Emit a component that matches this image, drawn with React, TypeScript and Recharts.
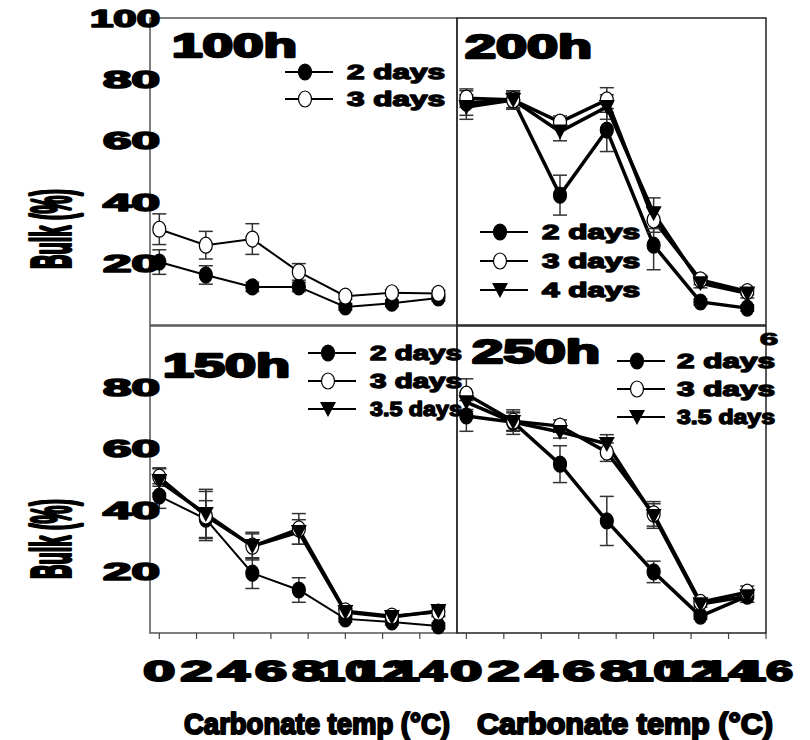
import { LineChart, Line, XAxis, YAxis, ErrorBar, ReferenceArea } from "recharts";

// x positions of the measurements (shared by all four panels)
const tempX = [0, 2.5, 5, 7.5, 10, 12.5, 15];
const xTicksLeft = [0, 2, 4, 6, 8, 10, 12, 14];
const xTicksRight = [0, 2, 4, 6, 8, 10, 12, 14, 16];
const yTicksTop = [20, 40, 60, 80, 100];
const yTicksBottom = [20, 40, 60, 80];
const yTicksInner = [20, 40, 60, 80];

const panelTitles = ["100h", "200h", "150h", "250h"];
const legendTL = ["2 days", "3 days"];
const legendTR = ["2 days", "3 days", "4 days"];
const legendBL = ["2 days", "3 days", "3.5 days"];
const legendBR = ["2 days", "3 days", "3.5 days"];
const yTitle = "Bulk (%)";
const xTitle = "Carbonate temp (°C)";

// top left
const tl2 = [20.5, 16.3, 12.4, 12.4, 5.9, 7.1, 8.8];
const tl2Err = [4, 3, 1.5, 1.5, 1, 1, 1];
const tl3 = [31.2, 26, 28, 17.3, 9.4, 10.5, 10.3];
const tl3Err = [5, 4.5, 5, 2.7, 1, 1, 1];

// top right
const tr2 = [72.3, 73.3, 42.3, 63.5, 26, 7.5, 5.5];
const tr2Err = [4, 3, 6.5, 7, 8, 1, 1];
const tr3 = [73.9, 73.3, 66.1, 73.3, 34.2, 14.7, 10.9];
const tr3Err = [3, 3, 2, 4, 4, 1.5, 1];
const tr4 = [71, 73.3, 63, 71, 36.4, 13.6, 10.3];
const tr4Err = [4, 2.5, 3, 4, 5, 1.5, 1.5];

// bottom left
const bl2 = [44.6, 37.1, 19.5, 14, 4.6, 3.6, 2.3];
const bl2Err = [4, 6, 5, 4, 1, 1, 1];
const bl3 = [50.8, 38.1, 28.3, 33.9, 7.2, 5.5, 6.8];
const bl3Err = [3, 8, 4.5, 5, 1, 1, 1.5];
const bl4 = [49.5, 38.8, 28.3, 32.9, 6.8, 5.2, 7.2];
const bl4Err = [4, 8, 4, 4, 1, 1, 1.5];

// bottom right
const br2 = [70.7, 68.7, 55, 36.5, 19.9, 5.5, 12];
const br2Err = [5, 4, 6, 8, 3.5, 1, 2];
const br3 = [77.8, 69, 67.4, 58.9, 38.8, 10, 13.3];
const br3Err = [5, 3, 2, 3, 4, 1, 2];
const br4 = [75.2, 68.7, 65.5, 61.6, 38.1, 9.4, 12];
const br4Err = [3, 3, 2, 3, 4, 1, 2];

const FONT = "'Liberation Sans', Arial, sans-serif";

function makeRows(a: number[], aErr: number[], b: number[], bErr: number[], c?: number[], cErr?: number[]) {
  return tempX.map((x, i) => ({
    x,
    a: a[i],
    aErr: aErr[i],
    b: b[i],
    bErr: bErr[i],
    c: c ? c[i] : undefined,
    cErr: cErr ? cErr[i] : undefined,
  }));
}

function Marker({ cx, cy, shape }: any) {
  if (cx == null || cy == null) return null;
  if (shape === "tri") {
    return <polygon points={`${cx - 8},${cy - 7} ${cx + 8},${cy - 7} ${cx},${cy + 8}`} fill="#000" />;
  }
  return (
    <ellipse cx={cx} cy={cy} rx={6.5} ry={8} fill={shape === "open" ? "#fff" : "#000"} stroke="#000" strokeWidth={1.2} />
  );
}

// heavy, horizontally stretched text like the original
function Stretch({ x, y, size, len, anchor = "start", transform, children }: any) {
  return (
    <text
      x={x}
      y={y}
      fontSize={size}
      fontWeight="bold"
      fontFamily={FONT}
      textLength={len}
      lengthAdjust="spacingAndGlyphs"
      textAnchor={anchor}
      transform={transform}
      fill="#000"
      stroke="#000"
      strokeWidth={size * 0.07}
      strokeLinejoin="round"
    >
      {children}
    </text>
  );
}

type Series = { key: string; shape: string; width: number };

function Panel({ rows, series, left, top }: { rows: any[]; series: Series[]; left: boolean; top: boolean }) {
  const margin = {
    top: top ? 18 : 326,
    bottom: top ? 415 : 67,
    left: left ? 90 : 457,
    right: left ? 353 : 44,
  };
  return (
    <div style={{ position: "absolute", left: 0, top: 0 }}>
      <LineChart width={810} height={740} data={rows} margin={margin}>
        <ReferenceArea
          x1={-0.5}
          x2={16}
          y1={0}
          y2={100}
          fill="none"
          stroke={left ? "#555" : "#222"}
          strokeWidth={1.5}
          ifOverflow="visible"
        />
        {top ? (
          <XAxis type="number" dataKey="x" domain={[-0.5, 16]} hide />
        ) : (
          <XAxis
            type="number"
            dataKey="x"
            domain={[-0.5, 16]}
            ticks={left ? xTicksLeft : xTicksRight}
            height={40}
            tickSize={6}
            axisLine={false}
            tickLine={{ stroke: "#444", strokeWidth: 1.2 }}
            interval={0}
            tick={(p: any) => (
              <Stretch x={p.x} y={p.y + 40} size={29} len={p.payload.value >= 10 ? 54 : 32} anchor="middle">
                {String(p.payload.value)}
              </Stretch>
            )}
          />
        )}
        {left ? (
          <YAxis
            type="number"
            domain={[0, 100]}
            ticks={top ? yTicksTop : yTicksBottom}
            width={60}
            axisLine={false}
            tickLine={false}
            interval={0}
            tick={(p: any) => (
              <Stretch x={p.x + 18} y={p.y + 8.5} size={24} len={p.payload.value >= 100 ? 70 : 57} anchor="end">
                {String(p.payload.value)}
              </Stretch>
            )}
          />
        ) : (
          <YAxis
            type="number"
            domain={[0, 100]}
            ticks={yTicksInner}
            mirror
            axisLine={false}
            tickSize={5}
            tick={false}
            tickLine={{ stroke: "#444", strokeWidth: 1.2 }}
          />
        )}
        {series.map((s) => (
          <Line
            key={s.key}
            dataKey={s.key}
            stroke="#000"
            strokeWidth={s.width}
            isAnimationActive={false}
            activeDot={false}
            dot={(p: any) => <Marker key={`${s.key}-${p.index}`} cx={p.cx} cy={p.cy} shape={s.shape} />}
          >
            <ErrorBar dataKey={`${s.key}Err`} direction="y" width={7} stroke="#333" strokeWidth={1.5} />
          </Line>
        ))}
      </LineChart>
    </div>
  );
}

function LegendBlock({ x, y, gap, textX, len, labels }: any) {
  const shapes = ["filled", "open", "tri"];
  return (
    <g>
      {labels.map((lab: string, i: number) => {
        const cy = y + i * gap;
        return (
          <g key={lab + i}>
            <line x1={x - 20} x2={x + 28} y1={cy} y2={cy} stroke="#000" strokeWidth={2} />
            <Marker cx={x} cy={cy} shape={shapes[i]} />
            <Stretch x={textX} y={cy + 7} size={21} len={len}>
              {lab}
            </Stretch>
          </g>
        );
      })}
    </g>
  );
}

export default function App() {
  const series2: Series[] = [
    { key: "a", shape: "filled", width: 2 },
    { key: "b", shape: "open", width: 2 },
  ];
  const series3: Series[] = [
    { key: "a", shape: "filled", width: 3.5 },
    { key: "b", shape: "open", width: 3.5 },
    { key: "c", shape: "tri", width: 3.5 },
  ];
  const series3b: Series[] = [
    { key: "a", shape: "filled", width: 2 },
    { key: "b", shape: "open", width: 3 },
    { key: "c", shape: "tri", width: 3.5 },
  ];
  return (
    <div style={{ position: "absolute", left: 0, top: 0, width: 810, height: 740, overflow: "hidden", background: "#fff" }}>
      <Panel rows={makeRows(tl2, tl2Err, tl3, tl3Err)} series={series2} left top />
      <Panel rows={makeRows(tr2, tr2Err, tr3, tr3Err, tr4, tr4Err)} series={series3} left={false} top />
      <Panel rows={makeRows(bl2, bl2Err, bl3, bl3Err, bl4, bl4Err)} series={series3b} left top={false} />
      <Panel rows={makeRows(br2, br2Err, br3, br3Err, br4, br4Err)} series={series3} left={false} top={false} />
      <svg width={810} height={740} style={{ position: "absolute", left: 0, top: 0, pointerEvents: "none" }}>
        <Stretch x={172} y={57} size={33} len={125}>{panelTitles[0]}</Stretch>
        <Stretch x={465} y={58} size={33} len={127}>{panelTitles[1]}</Stretch>
        <Stretch x={163} y={377} size={33} len={127}>{panelTitles[2]}</Stretch>
        <Stretch x={472} y={363} size={33} len={128}>{panelTitles[3]}</Stretch>

        <LegendBlock x={305} y={72} gap={27} textX={347} len={98} labels={legendTL} />
        <LegendBlock x={500} y={232} gap={29} textX={542} len={98} labels={legendTR} />
        <LegendBlock x={328} y={353} gap={28} textX={370} len={92} labels={legendBL} />
        <LegendBlock x={637} y={361} gap={28} textX={677} len={98} labels={legendBR} />

        <Stretch x={0} y={0} size={56} len={80} anchor="middle" transform="translate(70,229) rotate(-90)">{yTitle}</Stretch>
        <Stretch x={0} y={0} size={56} len={80} anchor="middle" transform="translate(70,539) rotate(-90)">{yTitle}</Stretch>

        <Stretch x={317} y={734} size={30} len={266} anchor="middle">{xTitle}</Stretch>
        <Stretch x={625} y={734} size={30} len={296} anchor="middle">{xTitle}</Stretch>

        <Stretch x={760} y={345} size={16} len={18}>6</Stretch>
      </svg>
    </div>
  );
}
